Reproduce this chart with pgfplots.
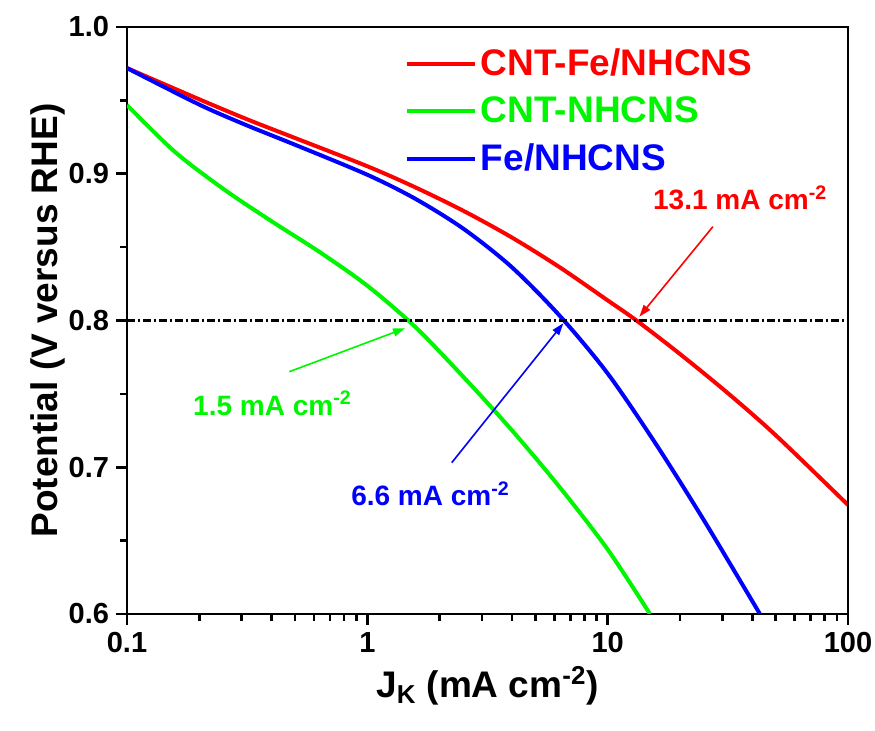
\documentclass[border=0pt]{standalone}
\usepackage{pgfplots}
\pgfplotsset{compat=1.18}
\usepackage{fontspec}
\setmainfont{Liberation Sans}
\usetikzlibrary{arrows.meta}

\definecolor{cred}{RGB}{255,0,0}
\definecolor{cgreen}{RGB}{0,245,0}
\definecolor{cblue}{RGB}{0,0,255}

% Tafel-type kinetic current curves
\pgfplotstableread{
J      E
0.1    0.972
0.2    0.9507
0.316  0.9371
0.501  0.9243
1      0.9051
1.585  0.8907
2.512  0.8747
3.981  0.8567
6.31   0.8363
10     0.8137
13.18  0.800
19.95  0.7773
31.62  0.7505
50.12  0.7217
100    0.6743
}\cntfe

\pgfplotstableread{
J      E
0.1    0.9468
0.158  0.9150
0.251  0.8898
0.398  0.8678
0.631  0.8468
1      0.8237
1.585  0.7955
2.512  0.7615
3.981  0.7255
6.31   0.6865
10     0.644
15     0.600
}\cnt

\pgfplotstableread{
J      E
0.1    0.972
0.2    0.9471
0.316  0.9329
0.501  0.9197
1      0.8993
1.585  0.8829
2.512  0.8625
3.981  0.8365
6.31   0.8033
10     0.7639
15.85  0.716
25.12  0.664
43     0.600
}\fe

\begin{document}
\begin{tikzpicture}
\begin{axis}[
  at={(0,0)}, anchor=south west,
  scale only axis, width=360.5pt, height=293.5pt,
  xmode=log, xmin=0.1, xmax=100, ymin=0.6, ymax=1.0,
  axis x line*=bottom, axis y line*=left,
  axis line style={line width=1.4pt, line cap=rect},
  tick align=outside,
  major tick length=5.5pt, minor tick length=3.5pt,
  every major tick/.style={draw=black, line width=1.3pt},
  every minor tick/.style={draw=black, line width=1.3pt},
  xtick={0.1,1,10,100}, xticklabels={0.1,1,10,100},
  minor xtick={0.2,0.3,0.4,0.5,0.6,0.7,0.8,0.9,2,3,4,5,6,7,8,9,20,30,40,50,60,70,80,90},
  ytick={0.6,0.7,0.8,0.9,1.0}, minor ytick={0.65,0.75,0.85,0.95},
  yticklabel style={/pgf/number format/.cd, fixed, fixed zerofill, precision=1},
  /pgf/number format/assume math mode=true,
  ticklabel style={font=\fontsize{14.5}{16}\selectfont\bfseries},
  xlabel={J\textsubscript{K} (mA cm\textsuperscript{-2})},
  ylabel={Potential (V versus RHE)},
  xlabel style={font=\fontsize{18.5}{22}\selectfont\bfseries, at={(axis description cs:0.5,0)}, anchor=center, yshift=-36pt},
  ylabel style={font=\fontsize{18.5}{22}\selectfont\bfseries, at={(axis description cs:-0.11,0.5)}, anchor=center},
  legend style={draw=none, fill=none, at={(rel axis cs:0.385,0.97)}, anchor=north west,
    inner sep=0pt, row sep=5pt, font=\fontsize{18.5}{21}\selectfont\bfseries},
  legend cell align=left,
  legend image code/.code={\draw[#1] (0pt,0pt) -- (34pt,0pt);},
]
\addplot[cred, line width=2pt, smooth] table[x=J, y=E] {\cntfe};
\addlegendentry{\textcolor{cred}{CNT-Fe/NHCNS}}
\addplot[cgreen, line width=2pt, smooth] table[x=J, y=E] {\cnt};
\addlegendentry{\textcolor{cgreen}{CNT-NHCNS}}
\addplot[cblue, line width=2pt, smooth] table[x=J, y=E] {\fe};
\addlegendentry{\textcolor{cblue}{Fe/NHCNS}}

% reference potential 0.8 V
\addplot[black, line width=1.1pt, dash pattern=on 4pt off 1.5pt on 1pt off 1.5pt, forget plot]
  coordinates {(0.1,0.8) (100,0.8)};

% kinetic current annotations at 0.8 V
\draw[cred, line width=0.8pt, -{Triangle[length=6pt,width=4pt]}] (axis cs:27.4,0.8639) -- (axis cs:13.55,0.8026);
\node[cred, font=\fontsize{14}{16}\selectfont\bfseries] at (axis cs:35.6,0.8835) {13.1 mA cm\textsuperscript{-2}};

\draw[cgreen, line width=0.8pt, -{Triangle[length=6pt,width=4pt]}] (axis cs:0.4736,0.7651) -- (axis cs:1.435,0.7947);
\node[cgreen, font=\fontsize{14}{16}\selectfont\bfseries] at (axis cs:0.403,0.7435) {1.5 mA cm\textsuperscript{-2}};

\draw[cblue, line width=0.8pt, -{Triangle[length=6pt,width=4pt]}] (axis cs:2.245,0.7031) -- (axis cs:6.54,0.7981);
\node[cblue, font=\fontsize{14}{16}\selectfont\bfseries] at (axis cs:1.832,0.682) {6.6 mA cm\textsuperscript{-2}};
\end{axis}
% closing top and right frame lines
\draw[line width=1.4pt, line cap=rect] (current axis.north west) -- (current axis.north east) -- (current axis.south east);
\pgfresetboundingbox
\path[use as bounding box] (-63.5pt,-58.5pt) rectangle (374pt,307pt);
\end{tikzpicture}
\end{document}
